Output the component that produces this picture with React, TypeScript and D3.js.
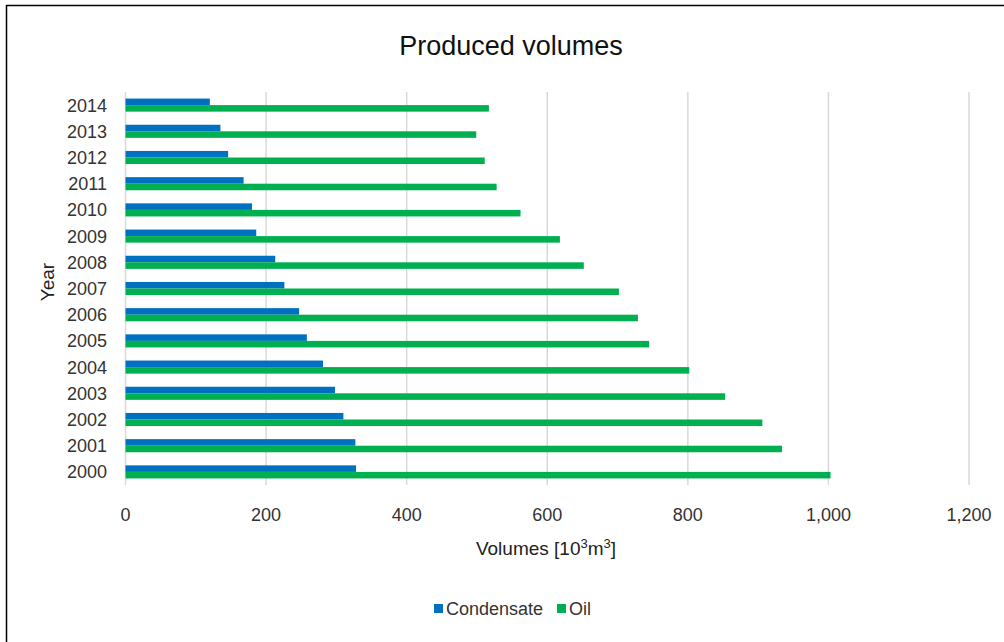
import React from "react";
import * as d3 from "d3";

const years = ["2000","2001","2002","2003","2004","2005","2006","2007","2008","2009","2010","2011","2012","2013","2014"];
const condensate = [328, 327, 310, 298, 281, 258, 247, 226, 213, 186, 180, 168, 146, 135, 120];
const oil = [1003, 934, 906, 853, 802, 745, 729, 702, 652, 618, 562, 528, 511, 499, 517];
const xTicks = [0, 200, 400, 600, 800, 1000, 1200];
const seriesNames = ["Condensate", "Oil"];
const seriesColors = ["#0070C0", "#00B050"];

const W = 1004, H = 642;
const FONT = "'Liberation Sans', Arial, sans-serif";

export default function App() {
  const x = d3.scaleLinear().domain([0, 1200]).range([125.5, 969]);
  const y = d3.scaleBand<string>().domain([...years].reverse()).range([92, 485]).padding(0);
  const bw = y.bandwidth();
  const barH = bw * 0.25;
  const fmt = d3.format(",");
  const series = [condensate, oil];

  return (
    <svg width={W} height={H} style={{ position: "fixed", left: 0, top: 0, background: "#fff" }} fontFamily={FONT}>
      <rect x={0} y={0} width={W} height={H} fill="#fff" />
      <path d={`M6.5,${H} V5.5 H${W}`} fill="none" stroke="#000" strokeWidth={1.5} />
      <text x={511} y={55} textAnchor="middle" fontSize={27} fill="#111">Produced volumes</text>
      {xTicks.map((t) => (
        <line key={t} x1={x(t)} x2={x(t)} y1={92} y2={485} stroke="#D9D9D9" strokeWidth={1.5} />
      ))}
      {years.map((yr, i) => (
        <g key={yr}>
          {series.map((s, k) => (
            <rect key={k} x={x(0)} y={(y(yr) as number) + bw * 0.25 + k * barH} width={x(s[i]) - x(0)} height={barH} fill={seriesColors[k]} />
          ))}
          <text x={107} y={(y(yr) as number) + bw / 2 + 6.5} textAnchor="end" fontSize={18} fill="#333">{yr}</text>
        </g>
      ))}
      {xTicks.map((t) => (
        <text key={t} x={x(t)} y={521} textAnchor="middle" fontSize={18} fill="#333">{fmt(t)}</text>
      ))}
      <text x={546} y={555} textAnchor="middle" fontSize={19} fill="#222">
        Volumes [10<tspan dy={-7} fontSize={13}>3</tspan><tspan dy={7}>m</tspan><tspan dy={-7} fontSize={13}>3</tspan><tspan dy={7}>]</tspan>
      </text>
      <text transform={`translate(54,282) rotate(-90)`} textAnchor="middle" fontSize={19} fill="#222">Year</text>
      <g>
        <rect x={434} y={604} width={9} height={9} fill={seriesColors[0]} />
        <text x={446} y={615} fontSize={18} fill="#333">{seriesNames[0]}</text>
        <rect x={557} y={604} width={9} height={9} fill={seriesColors[1]} />
        <text x={569} y={615} fontSize={18} fill="#333">{seriesNames[1]}</text>
      </g>
    </svg>
  );
}
